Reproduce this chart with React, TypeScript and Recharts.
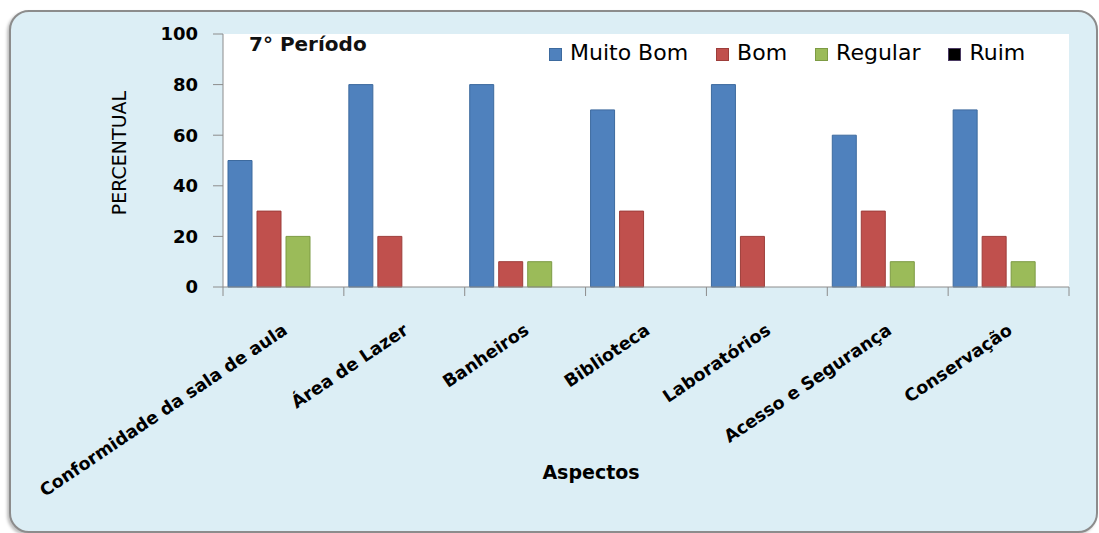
import React from 'react';
import { BarChart, Bar, XAxis, YAxis, CartesianGrid, Label } from 'recharts';

const CATEGORIES = [
  'Conformidade da sala de aula',
  'Área de Lazer',
  'Banheiros',
  'Biblioteca',
  'Laboratórios',
  'Acesso e Segurança',
  'Conservação',
];
const MUITO_BOM = [50, 80, 80, 70, 80, 60, 70];
const BOM = [30, 20, 10, 30, 20, 30, 20];
const REGULAR = [20, 0, 10, 0, 0, 10, 10];
const RUIM = [0, 0, 0, 0, 0, 0, 0];
const Y_TICKS = [0, 20, 40, 60, 80, 100];

const SERIES = [
  { key: 'Muito Bom', fill: '#4F81BD', stroke: '#3D6A9E' },
  { key: 'Bom', fill: '#C0504D', stroke: '#9D3D3A' },
  { key: 'Regular', fill: '#9BBB59', stroke: '#7D9B44' },
  { key: 'Ruim', fill: '#000000', stroke: '#4B3A63' },
];

const chartData = CATEGORIES.map((name, i) => ({
  name,
  'Muito Bom': MUITO_BOM[i],
  Bom: BOM[i],
  Regular: REGULAR[i],
  Ruim: RUIM[i],
}));

const W = 1099;
const H = 533;
const MARGIN = { top: 34, right: 30, left: 0, bottom: 0 };
const Y_AXIS_W = 223;
const X_AXIS_H = H - 287;
const FONT = '"DejaVu Sans", sans-serif';
const AXIS_COLOR = '#8C8C8C';

const bandWidth = (W - MARGIN.right - Y_AXIS_W) / CATEGORIES.length;

const CategoryTick = (props: any) => {
  const { x, y, payload, index } = props;
  const left = x - bandWidth / 2;
  const tx = x + 5;
  const ty = y + 46;
  return (
    <g>
      <line x1={left} y1={y} x2={left} y2={y + 9} stroke={AXIS_COLOR} />
      {index === CATEGORIES.length - 1 && (
        <line x1={x + bandWidth / 2} y1={y} x2={x + bandWidth / 2} y2={y + 9} stroke={AXIS_COLOR} />
      )}
      <text
        x={tx}
        y={ty}
        transform={`rotate(-34 ${tx} ${ty})`}
        textAnchor="end"
        fontFamily={FONT}
        fontWeight="bold"
        fontSize={17.5}
        fill="#000"
      >
        {payload.value}
      </text>
    </g>
  );
};

const ChartLegend = () => (
  <div
    style={{
      position: 'absolute',
      left: 549,
      top: 42,
      display: 'flex',
      fontFamily: FONT,
      fontSize: 22,
      lineHeight: '22px',
      color: '#000',
      whiteSpace: 'nowrap',
    }}
  >
    {SERIES.map((s) => (
      <div key={s.key} style={{ display: 'flex', alignItems: 'center', marginRight: 28 }}>
        <span
          style={{
            display: 'inline-block',
            width: 11,
            height: 11,
            background: s.fill,
            border: `1px solid ${s.stroke}`,
            marginRight: 8,
            marginTop: 3,
          }}
        />
        <span>{s.key}</span>
      </div>
    ))}
  </div>
);

const App: React.FC = () => {
  return (
    <div style={{ position: 'absolute', left: 0, top: 0, width: W, height: H, overflow: 'hidden', background: '#fff' }}>
      <div
        style={{
          position: 'absolute',
          left: 9,
          top: 10,
          width: 1085,
          height: 519,
          background: '#DCEEF5',
          border: '2px solid #8C8C8C',
          borderRadius: 20,
          boxShadow: '-2px 2px 3px rgba(0,0,0,0.25)',
        }}
      />
      <div style={{ position: 'absolute', left: 0, top: 0 }}>
        <BarChart width={W} height={H} data={chartData} margin={MARGIN} barCategoryGap={5} barGap={5}>
          <CartesianGrid horizontal={false} vertical={false} fill="#ffffff" />
          <XAxis
            dataKey="name"
            height={X_AXIS_H}
            interval={0}
            tickLine={false}
            tickSize={0}
            tickMargin={0}
            stroke={AXIS_COLOR}
            tick={<CategoryTick />}
          >
            <Label
              content={() => (
                <text x={591} y={479} textAnchor="middle" fontFamily={FONT} fontWeight="bold" fontSize={19} fill="#000">
                  Aspectos
                </text>
              )}
            />
          </XAxis>
          <YAxis
            width={Y_AXIS_W}
            domain={[0, 100]}
            ticks={Y_TICKS}
            interval={0}
            tickSize={10}
            tickMargin={15}
            stroke={AXIS_COLOR}
            tick={{ fill: '#000', fontFamily: FONT, fontWeight: 'bold', fontSize: 18 }}
          >
            <Label
              content={() => (
                <text
                  x={126}
                  y={153}
                  transform="rotate(-90 126 153)"
                  textAnchor="middle"
                  fontFamily={FONT}
                  fontSize={19}
                  fill="#000"
                >
                  PERCENTUAL
                </text>
              )}
            />
          </YAxis>
          {SERIES.map((s) => (
            <Bar key={s.key} dataKey={s.key} fill={s.fill} stroke={s.stroke} strokeWidth={1} isAnimationActive={false} />
          ))}
        </BarChart>
      </div>
      <ChartLegend />
      <div
        style={{
          position: 'absolute',
          left: 249,
          top: 32,
          fontFamily: FONT,
          fontWeight: 'bold',
          fontSize: 20,
          lineHeight: '24px',
          color: '#111',
        }}
      >
        7° Período
      </div>
    </div>
  );
};

export default App;
